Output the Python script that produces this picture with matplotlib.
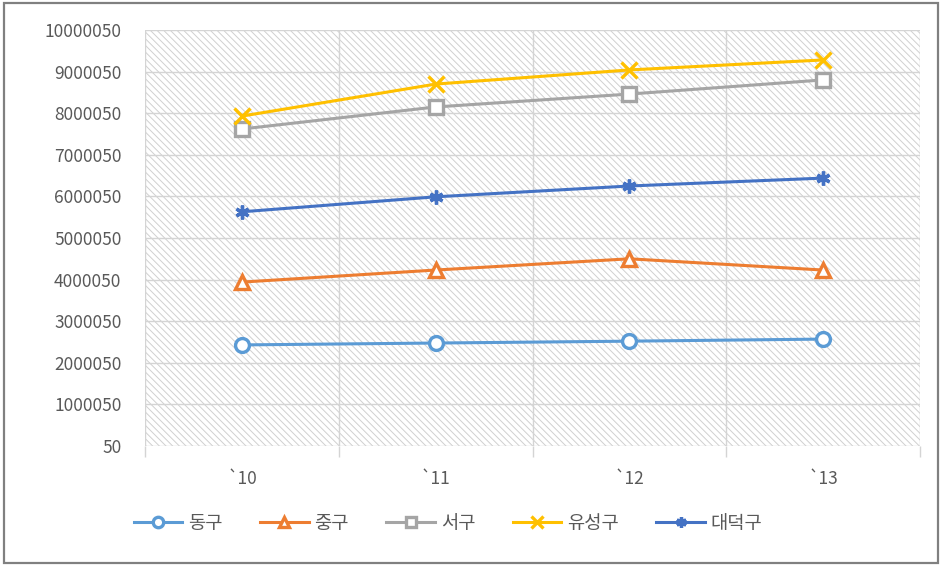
import numpy as np
import matplotlib.pyplot as plt
from matplotlib.patches import Rectangle

plt.rcParams['font.family'] = ['Noto Sans CJK KR', 'DejaVu Sans']
plt.rcParams['hatch.linewidth'] = 0.7

years = ["`10", "`11", "`12", "`13"]
districts = ["동구", "중구", "서구", "유성구", "대덕구"]
dong_gu = [2430000, 2475000, 2520000, 2570000]
jung_gu = [3940000, 4230000, 4500000, 4230000]
seo_gu = [7620000, 8150000, 8460000, 8800000]
yuseong_gu = [7930000, 8700000, 9040000, 9280000]
daedeok_gu = [5630000, 5990000, 6250000, 6440000]
yticks = np.arange(50, 10000051, 1000000)

series = [dong_gu, jung_gu, seo_gu, yuseong_gu, daedeok_gu]
colors = ["#5B9BD5", "#ED7D31", "#A5A5A5", "#FFC000", "#4472C4"]
markers = ["o", "^", "s", "x", (6, 2, 0)]

fig = plt.figure(figsize=(9.42, 5.66), dpi=100)
ax = fig.add_axes([145 / 942, 120 / 566, 775 / 942, 416 / 566])

# hatched plot background
ax.add_patch(Rectangle((0, 0), 1, 1, transform=ax.transAxes, facecolor="white",
                       edgecolor="#d0d0d0", hatch="\\\\\\\\\\", linewidth=0, zorder=0))

x = np.arange(len(years)) + 0.5
for vals, name, c, m in zip(series, districts, colors, markers):
    filled = m in ("x", (6, 2, 0))
    ax.plot(x, vals, color=c, lw=2.2, marker=m, ms=10 if m != "x" else 11,
            mfc=c if filled else "white", mec=c, mew=2.4, label=name, zorder=3)

ax.set_xlim(0, len(years))
ax.set_ylim(50, 10000050)
ax.set_yticks(yticks)
ax.set_yticklabels([str(v) for v in yticks])
ax.set_xticks(np.arange(len(years) + 1))
ax.set_xticklabels([])
ax.set_xticks(x, minor=True)
ax.set_xticklabels(years, minor=True)

ax.grid(True, axis="both", which="major", color="#d4d4d4", lw=1, zorder=1)
ax.set_axisbelow(True)
for s in ax.spines.values():
    s.set_visible(False)
ax.tick_params(axis="y", length=0, pad=17, labelsize=12.5, labelcolor="#595959")
ax.tick_params(axis="x", which="major", length=8, color="#d4d4d4", width=1)
ax.tick_params(axis="x", which="minor", length=0, pad=17, labelsize=12.5,
               labelcolor="#595959")

fig.legend(loc="center", bbox_to_anchor=(448 / 942, 1 - 523 / 566), ncol=5,
           frameon=False, fontsize=13.5, handlelength=2.6, columnspacing=2.0,
           handletextpad=0.3, markerscale=0.75, labelcolor="#595959")

fig.patches.append(Rectangle((0.004, 0.005), 0.992, 0.99, transform=fig.transFigure,
                             fill=False, edgecolor="#808080", lw=1.6))

fig.savefig("out.png", dpi=100)
